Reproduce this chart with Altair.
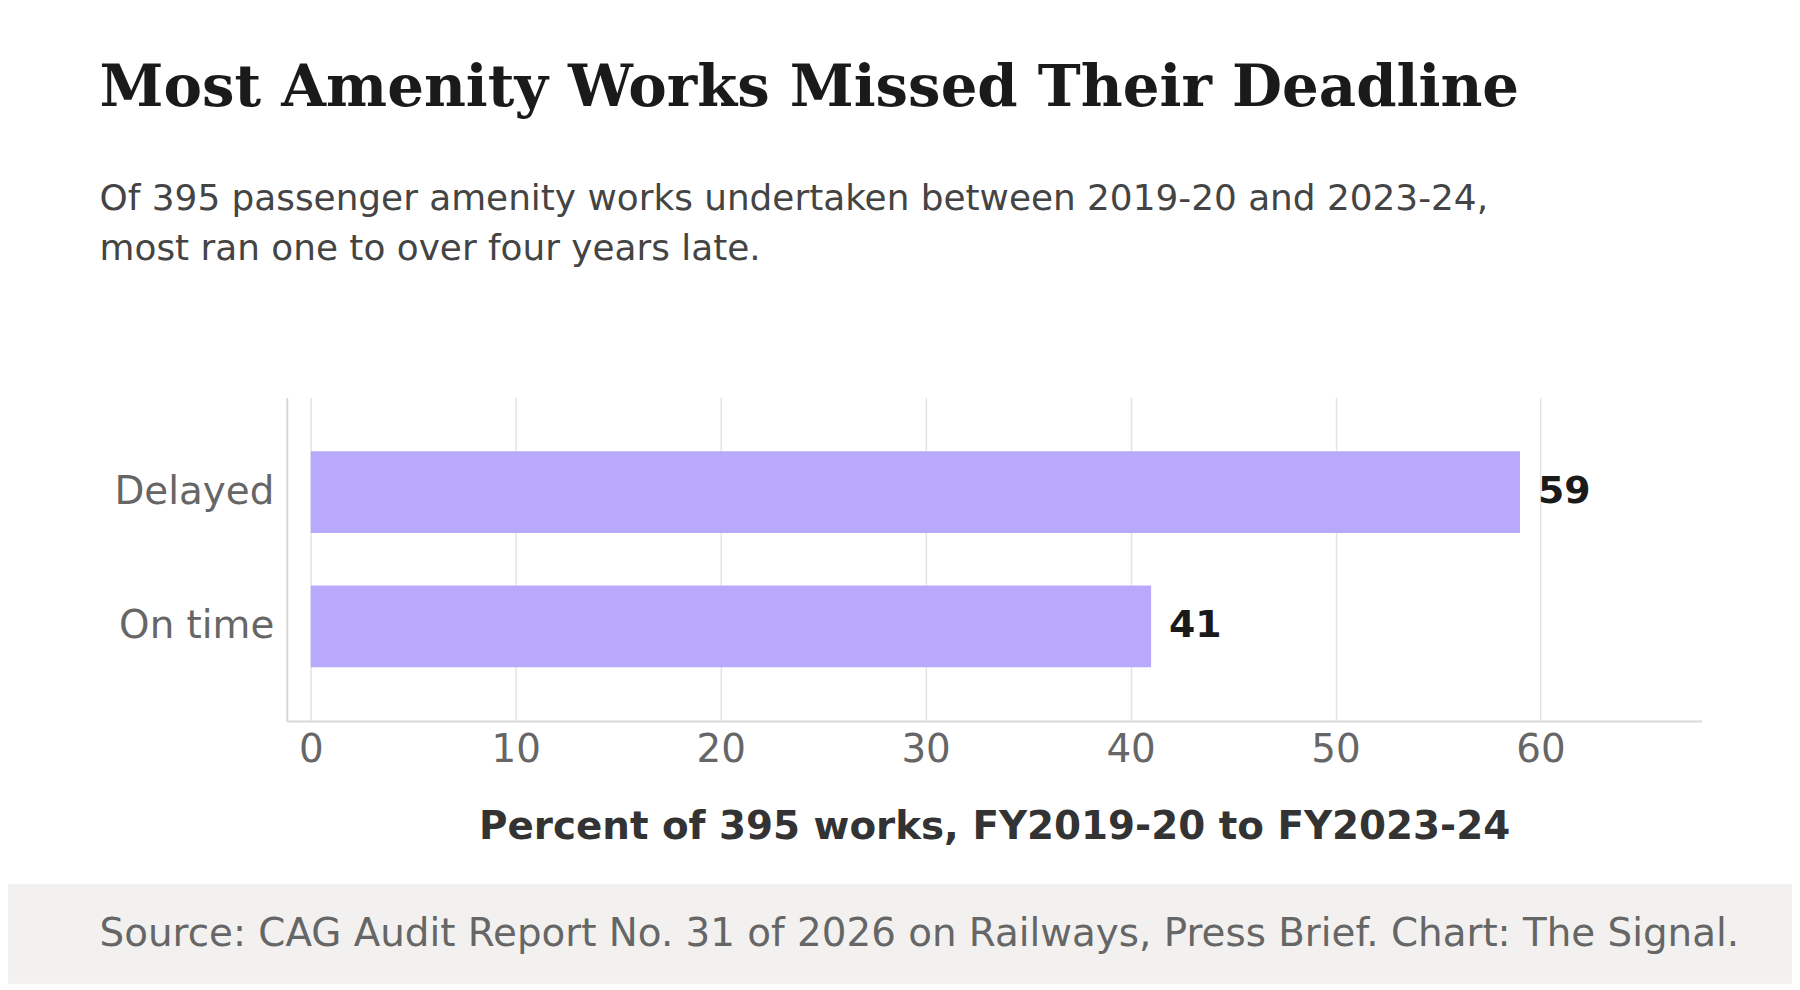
import altair as alt
import pandas as pd

# values
categories = ["Delayed", "On time"]
shares = [59, 41]
tick_values = [0, 10, 20, 30, 40, 50, 60]

title_text = "Most Amenity Works Missed Their Deadline"
subtitle_text = ("Of 395 passenger amenity works undertaken between 2019-20 and 2023-24,\n"
                 "most ran one to over four years late.")
x_title = "Percent of 395 works, FY2019-20 to FY2023-24"
source_text = "Source: CAG Audit Report No. 31 of 2026 on Railways, Press Brief. Chart: The Signal."

bar_df = pd.DataFrame({"status": categories, "share": shares})

W, H = 1421, 325
SANS = "DejaVu Sans"

x_enc = alt.X("share:Q",
              scale=alt.Scale(domain=[-1.17, 67.85], nice=False, zero=False),
              axis=alt.Axis(title=x_title, values=tick_values, ticks=False, tickSize=0,
                            labelFont=SANS, labelFontSize=39, labelColor="#666666",
                            labelPadding=10, titleFont=SANS, titleFontSize=39,
                            titleFontWeight="bold", titleColor="#333333", titlePadding=38,
                            domainColor="#d9d8d3", domainWidth=2,
                            grid=True, gridColor="#e4e3df", gridWidth=1.5))
y_enc = alt.Y("status:N", sort=categories,
              scale=alt.Scale(paddingInner=0.39, paddingOuter=0.4),
              axis=alt.Axis(title=None, ticks=False, tickSize=0, labelFont=SANS,
                            labelFontSize=39, labelColor="#666666", labelPadding=13,
                            domainColor="#d9d8d3", domainWidth=2, grid=False))

bars = alt.Chart(bar_df).mark_bar(color="#b8a9fc").encode(x=x_enc, y=y_enc)
labels = alt.Chart(bar_df).mark_text(align="left", baseline="middle", dx=18, font=SANS,
                                     fontSize=38, fontWeight="bold", color="#1a1a1a").encode(
    x="share:Q", y=alt.Y("status:N", sort=categories), text="share:Q")

# grey source strip along the bottom
footer_band = alt.Chart(pd.DataFrame({"k": [0]})).mark_rect(color="#f2f1ef").encode(
    x=alt.value(-280), x2=alt.value(1512), y=alt.value(489), y2=alt.value(589))

title = alt.Chart(pd.DataFrame({"t": [title_text]})).mark_text(
    align="left", baseline="alphabetic", font="DejaVu Serif", fontSize=58,
    fontWeight="bold", color="#1a1a1a").encode(
    x=alt.value(-188), y=alt.value(-293), text="t:N")

subtitle = alt.Chart(pd.DataFrame({"t": [subtitle_text]})).mark_text(
    align="left", baseline="alphabetic", font=SANS, fontSize=36, color="#444444",
    lineBreak="\n", lineHeight=50).encode(
    x=alt.value(-188), y=alt.value(-188), text="t:N")

source = alt.Chart(pd.DataFrame({"t": [source_text]})).mark_text(
    align="left", baseline="alphabetic", font=SANS, fontSize=39, color="#666666").encode(
    x=alt.value(-188), y=alt.value(551), text="t:N")

chart = alt.layer(footer_band, bars, labels, title, subtitle, source).properties(
    width=W, height=H,
    autosize=alt.AutoSizeParams(type="none"),
    padding={"left": 280, "top": 389, "right": 91, "bottom": 264},
).configure_view(stroke=None)

chart.save("out.html", embed_options={"renderer": "svg", "actions": False})
